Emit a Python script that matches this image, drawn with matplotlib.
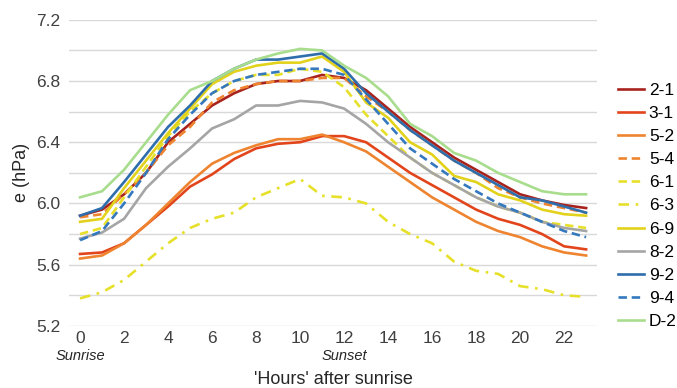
import numpy as np
import matplotlib.pyplot as plt
from matplotlib.transforms import blended_transform_factory

plt.rcParams['font.family'] = ['Liberation Sans', 'DejaVu Sans']

hours = list(range(24))

s_2_1 = [5.92, 5.96, 6.06, 6.20, 6.40, 6.52, 6.64, 6.72, 6.78, 6.80, 6.80, 6.84,
         6.82, 6.74, 6.62, 6.50, 6.40, 6.30, 6.22, 6.14, 6.06, 6.02, 5.99, 5.97]
s_3_1 = [5.67, 5.68, 5.74, 5.86, 5.98, 6.11, 6.19, 6.29, 6.36, 6.39, 6.40, 6.44,
         6.44, 6.40, 6.30, 6.20, 6.12, 6.04, 5.96, 5.90, 5.86, 5.80, 5.72, 5.70]
s_5_2 = [5.64, 5.66, 5.74, 5.86, 6.00, 6.14, 6.26, 6.33, 6.38, 6.42, 6.42, 6.45,
         6.40, 6.34, 6.24, 6.14, 6.04, 5.96, 5.88, 5.82, 5.78, 5.72, 5.68, 5.66]
s_5_4 = [5.91, 5.93, 6.06, 6.20, 6.38, 6.50, 6.66, 6.74, 6.78, 6.80, 6.80, 6.82,
         6.82, 6.70, 6.60, 6.48, 6.38, 6.28, 6.20, 6.10, 6.04, 6.00, 5.97, 5.94]
s_6_1 = [5.80, 5.84, 6.04, 6.24, 6.44, 6.60, 6.72, 6.80, 6.84, 6.84, 6.88, 6.86,
         6.76, 6.58, 6.44, 6.30, 6.20, 6.12, 6.04, 5.98, 5.94, 5.88, 5.86, 5.84]
s_6_3 = [5.38, 5.42, 5.50, 5.62, 5.74, 5.84, 5.90, 5.94, 6.04, 6.10, 6.16, 6.05,
         6.04, 6.00, 5.88, 5.80, 5.74, 5.62, 5.56, 5.54, 5.46, 5.44, 5.40, 5.39]
s_6_9 = [5.88, 5.90, 6.10, 6.28, 6.46, 6.62, 6.78, 6.86, 6.90, 6.92, 6.92, 6.96,
         6.86, 6.66, 6.56, 6.40, 6.32, 6.18, 6.14, 6.06, 6.02, 5.96, 5.93, 5.92]
s_8_2 = [5.77, 5.81, 5.90, 6.10, 6.24, 6.36, 6.49, 6.55, 6.64, 6.64, 6.67, 6.66,
         6.62, 6.52, 6.40, 6.30, 6.20, 6.12, 6.04, 5.98, 5.94, 5.88, 5.84, 5.82]
s_9_2 = [5.92, 5.97, 6.14, 6.32, 6.50, 6.64, 6.80, 6.88, 6.94, 6.94, 6.96, 6.98,
         6.88, 6.72, 6.60, 6.48, 6.38, 6.28, 6.20, 6.12, 6.04, 6.02, 5.98, 5.94]
s_9_4 = [5.76, 5.82, 6.00, 6.20, 6.42, 6.58, 6.72, 6.80, 6.84, 6.86, 6.88, 6.88,
         6.84, 6.68, 6.52, 6.36, 6.26, 6.16, 6.08, 6.00, 5.94, 5.88, 5.82, 5.78]
s_d_2 = [6.04, 6.08, 6.22, 6.40, 6.58, 6.74, 6.80, 6.88, 6.94, 6.98, 7.01, 7.00,
         6.90, 6.82, 6.70, 6.52, 6.44, 6.33, 6.28, 6.20, 6.14, 6.08, 6.06, 6.06]

labels = ['2-1', '3-1', '5-2', '5-4', '6-1', '6-3', '6-9', '8-2', '9-2', '9-4', 'D-2']
series = [s_2_1, s_3_1, s_5_2, s_5_4, s_6_1, s_6_3, s_6_9, s_8_2, s_9_2, s_9_4, s_d_2]
colors = ['#A8231E', '#E2451B', '#EE842F', '#EE842F', '#E6E02A', '#E6E02A',
          '#E3D21C', '#A5A5A5', '#2F6EAC', '#3478BE', '#A9DD8E']
dash = (0, (3.2, 1.8))
styles = ['-', '-', '-', dash, dash, (0, (4, 2.5, 1, 2.5)), '-', '-', '-', dash, '-']

fig = plt.figure(figsize=(6.77, 3.88), dpi=100)
ax = fig.add_axes([0.102, 0.160, 0.780, 0.789])

for lab, vals, c, ls in zip(labels, series, colors, styles):
    ax.plot(hours, vals, color=c, lw=1.9, linestyle=ls, label=lab)

ax.set_xlim(-0.5, 23.5)
ax.set_ylim(5.2, 7.2)
ax.set_xticks(range(0, 23, 2))
ax.set_yticks(np.arange(5.2, 7.21, 0.4))
ax.set_yticklabels([f'{v:.1f}' for v in np.arange(5.2, 7.21, 0.4)])
ax.set_yticks(np.arange(5.2, 7.21, 0.2), minor=True)
ax.grid(True, which='both', axis='y', color='#D9D9D9', lw=1)
ax.set_axisbelow(True)
for sp in ax.spines.values():
    sp.set_visible(False)
ax.tick_params(axis='both', which='both', length=0, labelsize=12.5, colors='#404040')
ax.tick_params(axis='x', pad=4)
ax.tick_params(axis='y', pad=6)

ax.set_ylabel('e (hPa)', fontsize=13, color='#262626', labelpad=5)
ax.set_xlabel("'Hours' after sunrise", fontsize=13, color='#262626', labelpad=18)

tr = blended_transform_factory(ax.transData, ax.transAxes)
ax.text(0, -0.098, 'Sunrise', transform=tr, ha='center', va='center',
        fontsize=10.5, style='italic', color='#262626')
ax.text(12, -0.098, 'Sunset', transform=tr, ha='center', va='center',
        fontsize=10.5, style='italic', color='#262626')

fig.legend(loc='upper left', bbox_to_anchor=(0.902, 0.805), frameon=False,
           fontsize=12.5, handlelength=1.5, handletextpad=0.3,
           labelspacing=0.46, borderaxespad=0)

fig.savefig('out.png', dpi=100)
